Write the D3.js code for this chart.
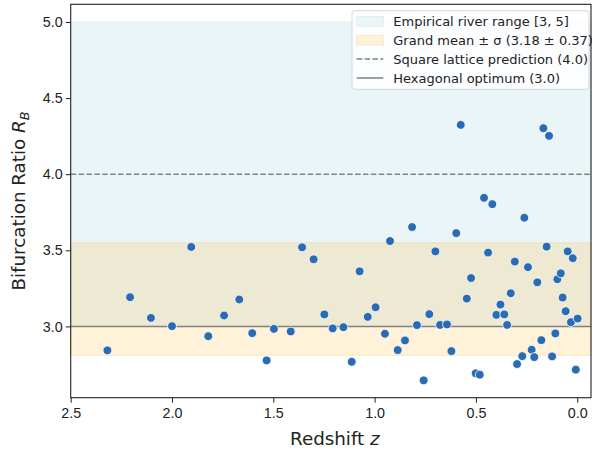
<!DOCTYPE html>
<html>
<head>
<meta charset="utf-8">
<script src="https://cdn.jsdelivr.net/npm/d3@7"></script>
<style>
  body { margin: 0; background: #fff; }
  svg { font-family: "DejaVu Sans", sans-serif; }
</style>
</head>
<body>
<svg id="chart" width="592" height="451"></svg>
<script>
// ----------------------------
// Data
// ----------------------------
const redshift = [
  2.319, 2.207, 2.104, 2.000, 1.905, 1.821, 1.743, 1.668, 1.604, 1.533,
  1.497, 1.414, 1.358, 1.301, 1.248, 1.207, 1.154, 1.113, 1.074, 1.034,
  0.995, 0.949, 0.924, 0.886, 0.850, 0.815, 0.791, 0.758, 0.730, 0.700,
  0.677, 0.643, 0.621, 0.597, 0.575, 0.545, 0.524, 0.501, 0.481, 0.460,
  0.440, 0.419, 0.399, 0.379, 0.360, 0.346, 0.328, 0.308, 0.297, 0.271,
  0.261, 0.243, 0.225, 0.212, 0.197, 0.177, 0.167, 0.151, 0.139, 0.124,
  0.108, 0.098, 0.081, 0.072, 0.057, 0.047, 0.031, 0.022, 0.007, -0.002
];
const ratio = [
  2.843, 3.192, 3.056, 3.002, 3.522, 2.936, 3.072, 3.177, 2.956, 2.777,
  2.984, 2.967, 3.520, 3.441, 3.079, 2.987, 2.995, 2.768, 3.362, 3.063,
  3.126, 2.952, 3.561, 2.845, 2.908, 3.653, 3.009, 2.646, 3.081, 3.493,
  3.010, 3.013, 2.838, 3.613, 4.324, 3.183, 3.318, 2.692, 2.683, 3.845,
  3.485, 3.803, 3.076, 3.144, 3.079, 3.010, 3.218, 3.426, 2.753, 2.805,
  3.714, 3.389, 2.847, 2.799, 3.290, 2.910, 4.302, 3.524, 4.252, 2.803,
  2.954, 3.310, 3.349, 3.190, 3.100, 3.493, 3.028, 3.448, 2.716, 3.052
];

const xTicks = [2.5, 2.0, 1.5, 1.0, 0.5, 0.0];
const yTicks = [3.0, 3.5, 4.0, 4.5, 5.0];

const riverRange = [3, 5];
const grandMean = 3.18, grandSigma = 0.37;
const squareLattice = 4.0;
const hexOptimum = 3.0;

const legendLabels = [
  "Empirical river range [3, 5]",
  "Grand mean \u00b1 \u03c3 (3.18 \u00b1 0.37)",
  "Square lattice prediction (4.0)",
  "Hexagonal optimum (3.0)"
];

// ----------------------------
// Layout
// ----------------------------
const svg = d3.select("#chart");
const margin = { top: 4.3, right: 1, bottom: 53.3, left: 70.7 };
const width = +svg.attr("width");
const height = +svg.attr("height");
const innerW = width - margin.left - margin.right;
const innerH = height - margin.top - margin.bottom;

const x = d3.scaleLinear().domain([2.5, -0.068]).range([0, innerW]);
const y = d3.scaleLinear().domain([2.532, 5.116]).range([innerH, 0]);

const g = svg.append("g")
  .attr("transform", `translate(${margin.left},${margin.top})`);

// ----------------------------
// Bands and reference lines
// ----------------------------
const blueFill = "#eaf5f8";
const orangeFill = "rgba(255,165,0,0.15)";

g.append("rect")
  .attr("x", 0).attr("width", innerW)
  .attr("y", y(riverRange[1]))
  .attr("height", y(riverRange[0]) - y(riverRange[1]))
  .attr("fill", blueFill)
  .attr("stroke", "#dfeff4").attr("stroke-width", 1);

g.append("rect")
  .attr("x", 0).attr("width", innerW)
  .attr("y", y(grandMean + grandSigma))
  .attr("height", y(grandMean - grandSigma) - y(grandMean + grandSigma))
  .attr("fill", orangeFill)
  .attr("stroke", "rgba(255,165,0,0.2)").attr("stroke-width", 1);

g.append("line")
  .attr("x1", 0).attr("x2", innerW)
  .attr("y1", y(squareLattice)).attr("y2", y(squareLattice))
  .attr("stroke", "#808080").attr("stroke-width", 1.5)
  .attr("stroke-dasharray", "5.5,2.4");

g.append("line")
  .attr("x1", 0).attr("x2", innerW)
  .attr("y1", y(hexOptimum)).attr("y2", y(hexOptimum))
  .attr("stroke", "#808080").attr("stroke-width", 1.5);

// ----------------------------
// Points
// ----------------------------
g.append("g")
  .selectAll("circle")
  .data(redshift)
  .join("circle")
  .attr("cx", d => x(d))
  .attr("cy", (d, i) => y(ratio[i]))
  .attr("r", 4.4)
  .attr("fill", "#2a6cb3")
  .attr("stroke", "#fff")
  .attr("stroke-width", 0.8);

// ----------------------------
// Axes
// ----------------------------
const xAxis = g.append("g")
  .attr("transform", `translate(0,${innerH})`)
  .call(d3.axisBottom(x).tickValues(xTicks).tickFormat(d3.format(".1f")).tickSize(5).tickSizeOuter(0));
const yAxis = g.append("g")
  .call(d3.axisLeft(y).tickValues(yTicks).tickFormat(d3.format(".1f")).tickSize(5).tickSizeOuter(0));

[xAxis, yAxis].forEach(a => {
  a.select(".domain").remove();
  a.selectAll("line").attr("stroke", "#222").attr("stroke-width", 1);
  a.selectAll("text").attr("fill", "#222").style("font-size", "14.3px");
});
xAxis.selectAll("text").attr("dy", "0.95em").attr("y", 7);
yAxis.selectAll("text").attr("x", -8);

// frame
g.append("rect")
  .attr("width", innerW).attr("height", innerH)
  .attr("fill", "none").attr("stroke", "#222").attr("stroke-width", 1.1);

// axis labels
svg.append("text")
  .attr("x", margin.left + innerW / 2 + 4).attr("y", 445)
  .attr("text-anchor", "middle")
  .style("font-size", "18.3px").attr("fill", "#222")
  .html('Redshift <tspan font-style="italic">z</tspan>');

svg.append("text")
  .attr("transform", `translate(24.5,${margin.top + innerH / 2}) rotate(-90)`)
  .attr("text-anchor", "middle")
  .style("font-size", "18.3px").attr("fill", "#222")
  .html('Bifurcation Ratio <tspan font-style="italic">R</tspan><tspan font-style="italic" font-size="12.8px" dy="4">B</tspan>');

// ----------------------------
// Legend
// ----------------------------
const lg = svg.append("g").attr("transform", "translate(352,10.7)");
lg.append("rect")
  .attr("width", 237).attr("height", 78.6).attr("rx", 3)
  .attr("fill", "rgba(255,255,255,0.8)")
  .attr("stroke", "#d6d6d6").attr("stroke-width", 1);

const rowY = i => 10.6 + i * 18.9;
lg.append("rect").attr("x", 4.7).attr("y", rowY(0) - 4.8).attr("width", 26.6).attr("height", 9.6)
  .attr("fill", blueFill).attr("stroke", "#dfeff4");
lg.append("rect").attr("x", 4.7).attr("y", rowY(1) - 4.8).attr("width", 26.6).attr("height", 9.6)
  .attr("fill", "#fff1d9").attr("stroke", "#fde7c4");
lg.append("line").attr("x1", 4.7).attr("x2", 31.3).attr("y1", rowY(2)).attr("y2", rowY(2))
  .attr("stroke", "#808080").attr("stroke-width", 1.5).attr("stroke-dasharray", "5.5,2.4");
lg.append("line").attr("x1", 4.7).attr("x2", 31.3).attr("y1", rowY(3)).attr("y2", rowY(3))
  .attr("stroke", "#808080").attr("stroke-width", 1.5);

lg.selectAll("text.lab")
  .data(legendLabels)
  .join("text")
  .attr("class", "lab")
  .attr("x", 41.3)
  .attr("y", (d, i) => rowY(i))
  .attr("dy", "0.36em")
  .style("font-size", "13px")
  .attr("fill", "#222")
  .text(d => d);
</script>
</body>
</html>
